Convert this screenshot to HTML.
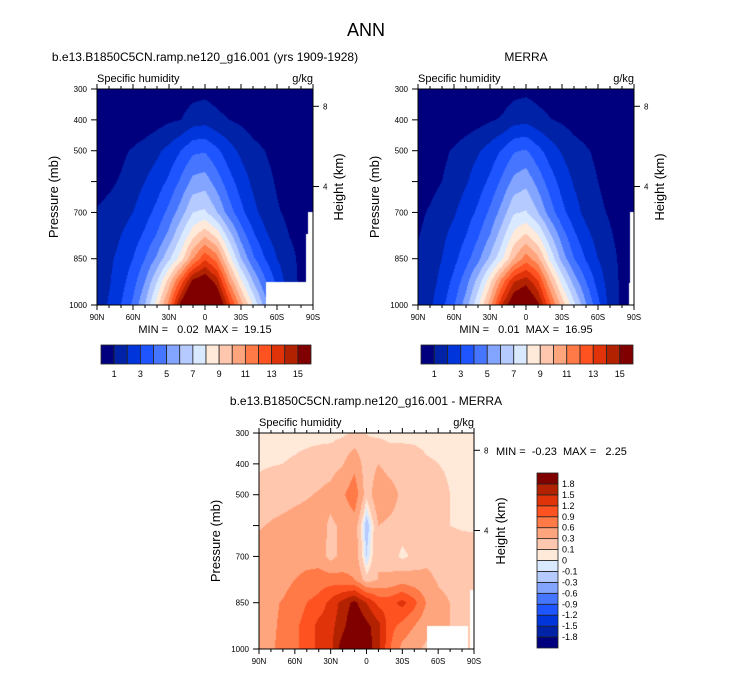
<!DOCTYPE html>
<html><head><meta charset="utf-8">
<style>
body{margin:0;background:#fff;width:733px;height:673px;overflow:hidden;position:relative;font-family:"Liberation Sans",sans-serif}
canvas{position:absolute}
svg{position:absolute;left:0;top:0}
text{white-space:pre}
</style></head>
<body>
<canvas id="c1" width="216" height="216" style="left:97px;top:89px"></canvas>
<canvas id="c2" width="216" height="216" style="left:418px;top:89px"></canvas>
<canvas id="c3" width="215" height="216" style="left:259px;top:433px"></canvas>
<svg id="s" width="733" height="673">
<text x="366" y="36" font-size="18" text-anchor="middle">ANN</text>
<text x="205" y="61" font-size="12" text-anchor="middle">b.e13.B1850C5CN.ramp.ne120_g16.001 (yrs 1909-1928)</text>
<text x="526" y="61" font-size="12" text-anchor="middle">MERRA</text>
<text x="366" y="405" font-size="12" text-anchor="middle">b.e13.B1850C5CN.ramp.ne120_g16.001 - MERRA</text>
<text x="205" y="333" font-size="11" text-anchor="middle" xml:space="preserve">MIN =   0.02  MAX =  19.15</text>
<text x="526" y="333" font-size="11" text-anchor="middle" xml:space="preserve">MIN =   0.01  MAX =  16.95</text>
<text x="496" y="455" font-size="11" xml:space="preserve">MIN =  -0.23  MAX =   2.25</text>
</svg>
<script>
const lats=[90,80,70,60,50,40,30,20,10,0,-10,-20,-30,-40,-50,-60,-70,-80,-90];
const pres=[300,400,500,600,700,775,850,925,1000];
const model300=[.05,.05,.06,.08,.1,.15,.25,.4,.6,.7,.55,.4,.25,.15,.1,.08,.06,.05,.05];
const model400=[.1,.12,.15,.25,.4,.6,.85,1.0,1.5,1.6,1.25,1.0,.8,.55,.4,.3,.2,.15,.1];
const model500=[.3,.5,.8,1.1,1.4,1.8,2.3,3,3.8,3.9,3.2,2.4,1.8,1.3,1.0,.7,.5,.3,.2];
const model600=[.6,.8,1.1,1.5,2.0,2.5,3.2,4.2,5.3,5.5,4.5,3.4,2.5,1.8,1.3,.9,.6,.4,.3];
const model700=[1.1,1.3,1.6,2.0,2.6,3.3,4.3,5.5,7,7.2,6,4.5,3.3,2.3,1.6,1.1,.8,.6,.5];
const model775=[1.3,1.5,2.0,2.5,3.2,4.1,5.3,7,8.7,9.8,8.7,6.5,4.6,3.2,2.2,1.5,1.0,.7,.5];
const model850=[1.5,1.8,2.3,3.0,4.0,5.2,6.8,8.5,11,12.8,11.5,8.5,6,4.2,3,2,1.3,.8,.5];
const model925=[1.5,1.9,2.6,3.6,5,7,9.5,12.5,15.5,16.2,14.5,11,8.3,6,4.2,2.7,1.5,.8,.6];
const model1000=[1.5,2.1,3,4.2,6,8.5,11.5,15.5,18,18.5,17,13.5,10.5,8,5.5,3.5,1.5,.7,.6];
const merra300=[.05,.05,.06,.08,.1,.15,.3,.45,.65,.75,.6,.45,.3,.15,.1,.08,.06,.05,.05];
const merra400=[.1,.12,.2,.3,.45,.65,.9,1.1,1.6,1.7,1.35,1.05,.85,.6,.45,.3,.2,.15,.1];
const merra500=[.3,.5,.8,1.1,1.5,1.9,2.4,3.1,3.9,4.1,3.3,2.5,1.9,1.4,1.1,.8,.55,.35,.2];
const merra600=[.5,.7,1.0,1.4,1.9,2.5,3.2,4.2,5.3,5.7,4.6,3.5,2.6,1.9,1.4,1.0,.7,.45,.3];
const merra700=[.8,1.1,1.5,1.9,2.5,3.2,4.2,5.4,6.9,7.1,6,4.5,3.3,2.4,1.7,1.2,.9,.6,.5];
const merra775=[.95,1.3,1.8,2.3,3.0,3.9,5.0,6.6,8.3,9.2,8.1,6.2,4.5,3.2,2.3,1.6,1.1,.7,.5];
const merra850=[1.2,1.5,2.0,2.7,3.6,4.7,6.2,7.8,10,11.5,10.3,7.8,5.6,4.0,2.9,2.0,1.3,.8,.5];
const merra925=[1.2,1.6,2.3,3.3,4.6,6.4,8.7,11.5,14,14.7,13.2,10.2,7.7,5.6,4.0,2.6,1.5,.8,.6];
const merra1000=[1.2,1.8,2.7,3.9,5.5,7.8,10.5,14,16.3,16.8,15.3,12.3,9.6,7.3,5.1,3.3,1.6,.8,.6];
const diff300=[.05,.05,.05,.05,.05,.05,.05,.07,.12,.1,.06,.05,.05,.05,.05,.05,.05,.05,.05];
const diff400=[.08,.09,.1,.12,.15,.18,.2,.28,.5,.15,.3,.2,.2,.18,.12,.1,.08,.06,.05];
const diff500=[.15,.2,.22,.25,.28,.32,.38,.55,.8,.15,.5,.4,.25,.22,.18,.15,.1,.08,.06];
const diff600=[.28,.32,.35,.38,.4,.42,.25,.35,.45,-.2,.3,.25,.2,.2,.18,.15,.1,.08,.07];
const diff700=[.4,.42,.45,.45,.45,.45,.2,.4,.45,-.1,.3,.2,.05,.15,.25,.25,.2,.2,.2];
const diff775=[.42,.45,.5,.6,.7,.75,.75,.7,.6,.15,.3,.35,.45,.4,.35,.28,.25,.25,.22];
const diff850=[.5,.55,.62,.75,.9,1.0,1.3,1.6,1.9,1.5,1.1,1.1,1.3,1.0,.6,.35,.3,.25,.2];
const diff925=[.5,.55,.65,.85,1.0,1.3,1.4,1.7,2.1,1.9,1.6,1.0,.8,.6,.4,.3,.3,.25,.2];
const diff1000=[.45,.55,.7,.85,1.0,1.3,1.4,2.0,2.2,2.0,1.6,.9,.5,.35,.25,.2,.2,.2,.2];
const qLevels=[1,2,3,4,5,6,7,8,9,10,11,12,13,14,15];
const qTickLabels=["1","3","5","7","9","11","13","15"];
const dLevels=[-1.8,-1.5,-1.2,-0.9,-0.6,-0.3,-0.1,0,0.1,0.3,0.6,0.9,1.2,1.5,1.8];
const dTickLabels=["-1.8","-1.5","-1.2","-0.9","-0.6","-0.3","-0.1","0","0.1","0.3","0.6","0.9","1.2","1.5","1.8"];
const xTickLabels=["90N","60N","30N","0","30S","60S","90S"];
const xTickLats=[90,60,30,0,-30,-60,-90];
const pTickValues=[300,400,500,600,700,850,1000];
const pTickLabels=["300","400","500","","700","850","1000"];
const hTickLabels=["8","4"];
const hTickPres=[356,616];
const colors=["#00007f","#0022a6","#0035dc","#1e55ff","#4676ff","#83a5ff","#b5caff","#d9e9ff","#ffe9d9","#ffc7ad","#ffa57e","#ff7a47","#ff5221","#e0330a","#b32200","#800000"];

const model=[model300,model400,model500,model600,model700,model775,model850,model925,model1000];
const merra=[merra300,merra400,merra500,merra600,merra700,merra775,merra850,merra925,merra1000];
const diff=[diff300,diff400,diff500,diff600,diff700,diff775,diff850,diff925,diff1000];

function interp(grid,lat,p){
  let j=(90-lat)/10; let j0=Math.min(Math.floor(j),lats.length-2); let fj=j-j0;
  let i0=0; while(i0<pres.length-2 && p>pres[i0+1]) i0++;
  let fi=(p-pres[i0])/(pres[i0+1]-pres[i0]);
  const a=grid[i0][j0],b=grid[i0][j0+1],c=grid[i0+1][j0],d=grid[i0+1][j0+1];
  return (a*(1-fj)+b*fj)*(1-fi)+(c*(1-fj)+d*fj)*fi;
}
function level(v,levels){let k=0;while(k<levels.length&&v>=levels[k])k++;return k;}
function draw(id,grid,levels,missing){
  const cv=document.getElementById(id),ctx=cv.getContext('2d');
  const W=cv.width,H=cv.height;
  for(let y=0;y<H;y++)for(let x=0;x<W;x++){
    const lat=90-(x+0.5)/W*180, p=300+(y+0.5)/H*700;
    if(missing(lat,p)){ctx.fillStyle="#fff";}
    else ctx.fillStyle=colors[level(interp(grid,lat,p),levels)];
    ctx.fillRect(x,y,1,1);
  }
}
draw('c1',model,qLevels,(lat,p)=>(lat<-51&&lat>-85&&p>925)||(lat<-86&&p>700)||(lat<-84.5&&p>770));
draw('c2',merra,qLevels,(lat,p)=>(lat<-87&&p>700)||(lat<-86&&p>930));
draw('c3',diff,dLevels,(lat,p)=>(lat<-51&&lat>-85&&p>925)||(lat<-86.5&&p>810));

const svg=document.getElementById('s');const NS="http://www.w3.org/2000/svg";
function mk(tag,attrs){const e=document.createElementNS(NS,tag);for(const k in attrs)e.setAttribute(k,attrs[k]);svg.appendChild(e);return e;}
function axes(L,T,W,H,tag,hLabelX){
  const xs=lat=>L+(90-lat)/180*W, ys=p=>T+(p-300)/700*H;
  const fr=mk('rect',{x:L,y:T,width:W,height:H,fill:'none',stroke:'#000','stroke-width':1});
  
  
  for(let lat=90;lat>=-90;lat-=10){
    const major=lat%30===0, len=major?5:3;
    const t1=mk('line',{x1:xs(lat),x2:xs(lat),y1:T+H,y2:T+H+len,stroke:'#000'});
    
    
    const t2=mk('line',{x1:xs(lat),x2:xs(lat),y1:T,y2:T-len,stroke:'#000'});
    
    
  }
  xTickLabels.forEach((s,i)=>{
    const t=mk('text',{x:xs(xTickLats[i]),y:T+H+15,'font-size':8,'text-anchor':'middle'});t.textContent=s;
    
    
  });
  pTickValues.forEach((p,i)=>{
    const t=mk('line',{x1:L-6,x2:L,y1:ys(p),y2:ys(p),stroke:'#000'});
    
    
    if(pTickLabels[i]){const l=mk('text',{x:L-10,y:ys(p)+3,'font-size':8,'text-anchor':'end'});l.textContent=pTickLabels[i];
      
      }
  });
  hTickPres.forEach((p,i)=>{
    const t=mk('line',{x1:L+W,x2:L+W+6,y1:ys(p),y2:ys(p),stroke:'#000'});
    
    
    const l=mk('text',{x:L+W+10,y:ys(p)+3,'font-size':8});l.textContent=hTickLabels[i];
    
    
  });
  const yt=mk('text',{x:0,y:0,'font-size':13,'text-anchor':'middle',transform:`translate(${L-39},${T+H/2}) rotate(-90)`});yt.textContent="Pressure (mb)";
  
  
  const ht=mk('text',{x:0,y:0,'font-size':13,'text-anchor':'middle',transform:`translate(${L+W+hLabelX},${T+H/2-10}) rotate(-90)`});ht.textContent="Height (km)";
  
  
  const st=mk('text',{x:L,y:T-7,'font-size':11});st.textContent="Specific humidity";
  
  
  const u=mk('text',{x:L+W,y:T-7,'font-size':11,'text-anchor':'end'});u.textContent="g/kg";
  
  
}
axes(97,89,216,216,'model',30);
axes(418,89,216,216,'merra',30);
axes(259,433,215,216,'difference',31);

function hbar(L,T,W,H,tag){
  const n=colors.length,bw=W/n;
  colors.forEach((c,i)=>{const r=mk('rect',{x:L+i*bw,y:T,width:bw,height:H,fill:c,stroke:'#222','stroke-width':0.8});
    
    });
  qTickLabels.forEach((s,k)=>{const idx=qLevels.indexOf(+s)+1;
    const t=mk('text',{x:L+idx*bw,y:T+H+13,'font-size':9,'text-anchor':'middle'});t.textContent=s;
    
    });
}
hbar(101,345,210,19,'model');
hbar(421,345,212,19,'merra');
(function(){
  const L=537,T=473,W=21,H=175,n=colors.length,bh=H/n;
  colors.forEach((c,i)=>{const r=mk('rect',{x:L,y:T+H-(i+1)*bh,width:W,height:bh,fill:c,stroke:'#222','stroke-width':0.8});
    
    });
  dTickLabels.forEach((s,k)=>{const t=mk('text',{x:L+W+4,y:T+H-(k+1)*bh+3,'font-size':9});t.textContent=s;
    
    });
})();
</script>
</body></html>
